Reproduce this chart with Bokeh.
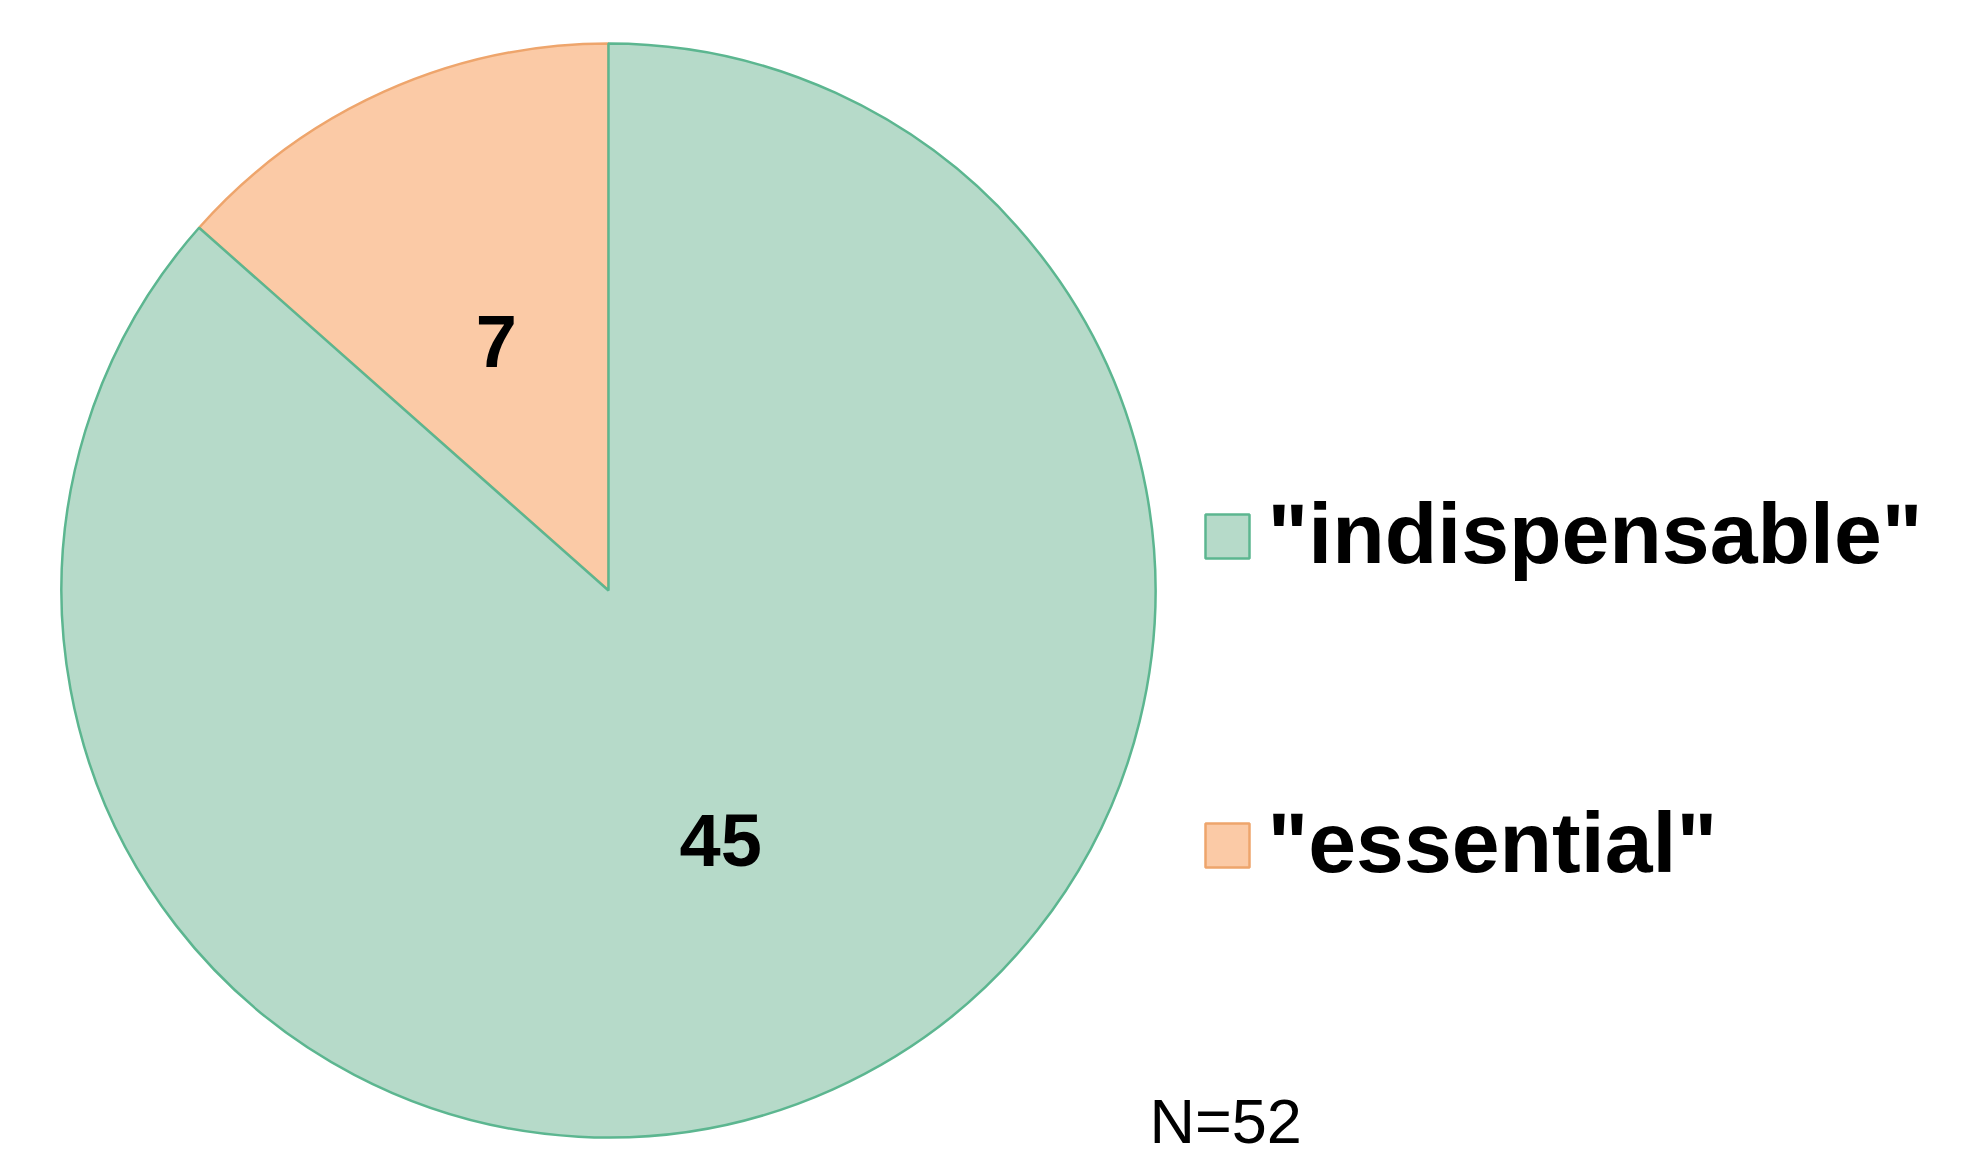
import numpy as np
from bokeh.plotting import figure
from bokeh.models import ColumnDataSource, Range1d
from bokeh.core.properties import value
from bokeh.embed import file_html
from bokeh.resources import INLINE

# ---- data ----
categories = ['"essential"', '"indispensable"']
counts = [7, 45]
legend_order = ['"indispensable"', '"essential"']
fill_colors = {'"essential"': "#fbcaa6", '"indispensable"': "#b6dac9"}
line_colors = {'"essential"': "#eea56c", '"indispensable"': "#5cb690"}
note = "N=52"

# ---- layout ----
W, H = 1963, 1160
cx, cy, R = 608, 570, 547

p = figure(width=W, height=H, x_range=Range1d(0, W), y_range=Range1d(0, H),
           output_backend="svg", toolbar_location=None, min_border=0)
p.axis.visible = False
p.grid.visible = False
p.outline_line_color = None
p.background_fill_color = "white"

total = sum(counts)
fracs = np.array(counts) / total
start = np.pi / 2 + 2 * np.pi * np.concatenate([[0], np.cumsum(fracs)[:-1]])
end = start + 2 * np.pi * fracs
mid = (start + end) / 2

src = ColumnDataSource(dict(
    cat=categories, start=start, end=end,
    fill=[fill_colors[c] for c in categories],
    line=[line_colors[c] for c in categories],
    lx=cx + 0.5 * R * np.cos(mid), ly=cy + 0.5 * R * np.sin(mid),
    lab=[str(c) for c in counts],
))

p.wedge(x=cx, y=cy, radius=R, start_angle="start", end_angle="end",
        direction="anticlock", fill_color="fill", line_color="line",
        line_width=2.5, source=src)

p.text(x="lx", y="ly", text="lab", source=src, text_align="center",
       text_baseline="middle", text_font=value("Liberation Sans"),
       text_font_style="bold", text_font_size="74px", text_color="black")

# legend (manual)
leg = ColumnDataSource(dict(
    x=[1227] * len(legend_order),
    y=[624 - 309 * i for i in range(len(legend_order))],
    ty=[628 - 309 * i for i in range(len(legend_order))],
    tx=[1267] * len(legend_order),
    label=legend_order,
    fill=[fill_colors[c] for c in legend_order],
    line=[line_colors[c] for c in legend_order],
))
p.rect(x="x", y="y", width=44, height=44, fill_color="fill",
       line_color="line", line_width=2.5, source=leg)
p.text(x="tx", y="ty", text="label", source=leg, text_align="left",
       text_baseline="alphabetic", text_font=value("Liberation Sans"),
       text_font_style="bold", text_font_size="86px", text_color="black")

p.text(x=[1149], y=[40], text=[note], text_align="left",
       text_baseline="alphabetic", text_font=value("Liberation Sans"),
       text_font_size="63px", text_color="black")

open("out.html", "w").write(file_html(p, INLINE))
